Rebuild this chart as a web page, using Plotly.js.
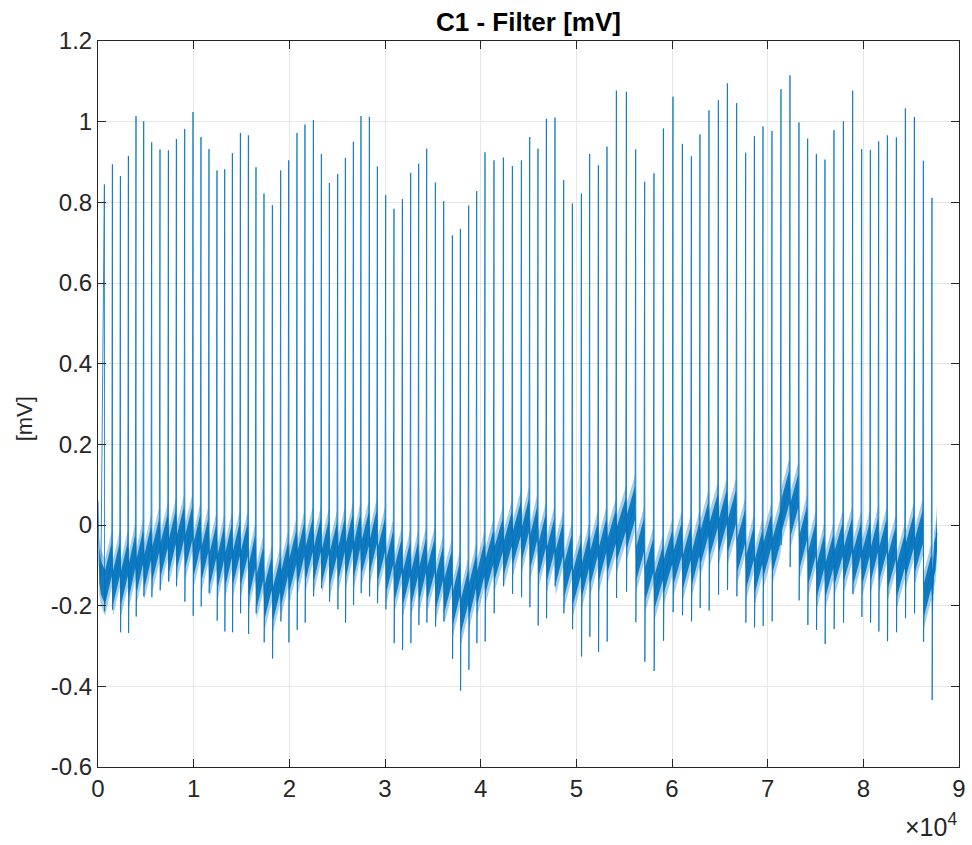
<!DOCTYPE html>
<html>
<head>
<meta charset="utf-8">
<script src="https://cdn.plot.ly/plotly-3.0.1.min.js"></script>
<style>html,body{margin:0;padding:0;background:#fff;}#chart{width:972px;height:845px;}</style>
</head>
<body>
<div id="chart"></div>
<script>
// R-peak sample positions
const spikeX = [669,1505,2341,3178,3972,4777,5613,6481,7359,8195,
  9063,9930,10766,11602,12439,13244,14048,14885,15721,16515,
  17351,18229,19097,19933,20801,21637,22515,23351,24187,25055,
  25860,26696,27490,28368,29204,30072,30940,31818,32685,33522,
  34358,35267,36135,37044,37880,38748,39584,40452,41392,42375,
  43316,44256,45124,45992,46870,47769,48678,49587,50528,51395,
  52305,53204,54186,55231,56204,57144,58116,59099,60102,61084,
  62025,62924,63865,64847,65788,66760,67701,68611,69510,70450,
  71391,72332,73273,74182,75091,75990,76931,77914,78886,79827,
  80736,81604,82513,83453,84394,85335,86276,87175];
// R-peak heights [mV]
const spikeTop = [0.844,0.894,0.865,0.915,1.014,1.001,0.949,0.931,0.929,0.957,
  0.982,1.024,0.962,0.932,0.879,0.882,0.922,0.972,0.966,0.887,
  0.822,0.793,0.879,0.904,0.972,0.993,1.004,0.920,0.848,0.870,
  0.910,0.950,1.014,1.012,0.889,0.818,0.784,0.808,0.873,0.896,
  0.933,0.849,0.803,0.718,0.734,0.792,0.828,0.924,0.904,0.911,
  0.890,0.904,0.962,0.933,1.007,1.010,0.855,0.797,0.822,0.920,
  0.892,0.938,1.077,1.074,0.931,0.851,0.872,0.983,1.062,0.945,
  0.914,0.968,1.028,1.053,1.095,1.046,0.923,0.964,0.988,0.977,
  1.081,1.115,0.998,0.958,0.920,0.906,0.979,1.001,1.077,0.932,
  0.930,0.951,0.966,0.961,1.033,1.012,0.903,0.811];
// S-wave troughs [mV]
const spikeBot = [-0.214,-0.210,-0.266,-0.268,-0.227,-0.177,-0.179,-0.162,-0.140,-0.152,
  -0.190,-0.225,-0.202,-0.169,-0.237,-0.264,-0.266,-0.219,-0.270,-0.219,
  -0.291,-0.331,-0.239,-0.291,-0.260,-0.242,-0.177,-0.157,-0.190,-0.209,
  -0.242,-0.198,-0.169,-0.177,-0.194,-0.209,-0.293,-0.310,-0.293,-0.248,
  -0.242,-0.252,-0.239,-0.332,-0.411,-0.359,-0.293,-0.289,-0.219,-0.152,
  -0.171,-0.179,-0.204,-0.249,-0.231,-0.152,-0.219,-0.258,-0.326,-0.277,
  -0.315,-0.289,-0.181,-0.165,-0.241,-0.339,-0.362,-0.287,-0.216,-0.224,
  -0.239,-0.206,-0.212,-0.173,-0.161,-0.177,-0.242,-0.254,-0.250,-0.239,
  -0.050,-0.104,-0.187,-0.248,-0.260,-0.295,-0.258,-0.242,-0.171,-0.228,
  -0.242,-0.264,-0.288,-0.266,-0.231,-0.219,-0.290,-0.434];
// baseline level of the noisy band after each beat [mV]
const bandMid = [-0.12,-0.12,-0.12,-0.10,-0.09,-0.08,-0.06,-0.05,-0.04,-0.03,
  -0.03,-0.05,-0.06,-0.075,-0.08,-0.075,-0.07,-0.07,-0.10,-0.13,
  -0.155,-0.16,-0.12,-0.09,-0.07,-0.06,-0.06,-0.065,-0.07,-0.06,
  -0.05,-0.05,-0.045,-0.04,-0.06,-0.09,-0.11,-0.12,-0.12,-0.11,
  -0.11,-0.13,-0.14,-0.17,-0.19,-0.15,-0.12,-0.09,-0.06,-0.045,
  -0.02,-0.01,-0.03,-0.05,-0.06,-0.07,-0.10,-0.12,-0.10,-0.07,
  -0.06,-0.04,-0.01,0.02,-0.06,-0.11,-0.13,-0.09,-0.07,-0.08,
  -0.07,-0.02,0.00,0.01,0.01,-0.04,-0.08,-0.09,-0.05,-0.04,
  0.06,0.05,-0.03,-0.07,-0.10,-0.10,-0.07,-0.06,-0.07,-0.07,
  -0.06,-0.06,-0.08,-0.10,-0.05,-0.04,-0.15,-0.12];
// start and end of the record
const headX = [0, 120, 300];
const headY = [0.06, -0.10, -0.13];
const tailX = [87400, 87550, 87700];
const tailY = [-0.14, -0.07, -0.02];

const RAMP = 0.035, GAP = 70, HW = 0.042, FUZZ = 0.07;
const n = spikeX.length;
let cx = headX.slice(1), cy = headY.slice(1);
let lx = headX.slice(), ly = headY.slice();
for (let i = 0; i < n; i++) {
  lx.push(spikeX[i], spikeX[i] + 20);
  ly.push(spikeTop[i], spikeBot[i]);
  const end = i < n - 1 ? spikeX[i + 1] - GAP : tailX[0];
  cx.push(spikeX[i] + GAP, end);
  cy.push(bandMid[i] - RAMP, bandMid[i] + RAMP);
  lx.push(spikeX[i] + GAP, end);
  ly.push(bandMid[i] - RAMP, bandMid[i] + RAMP);
}
cx = cx.concat(tailX.slice(1)); cy = cy.concat(tailY.slice(1));
lx = lx.concat(tailX.slice(1)); ly = ly.concat(tailY.slice(1));

const band = (w, col) => [
  {x: cx, y: cy.map(v => v - w), mode: 'lines', line: {width: 0, color: col}, hoverinfo: 'skip', showlegend: false},
  {x: cx, y: cy.map(v => v + w), mode: 'lines', line: {width: 0, color: col}, fill: 'tonexty', fillcolor: col, hoverinfo: 'skip', showlegend: false}
];
const data = [
  ...band(FUZZ, 'rgba(0,114,189,0.35)'),
  ...band(HW, 'rgba(0,114,189,0.9)'),
  {x: lx, y: ly, mode: 'lines', line: {width: 1, color: 'rgba(0,114,189,0.8)'}, showlegend: false}
];

const xt = [0,1,2,3,4,5,6,7,8,9];
const yt = [-0.6,-0.4,-0.2,0,0.2,0.4,0.6,0.8,1,1.2];
const FONT = 'Liberation Sans, Arial, Helvetica, sans-serif';
const axisCommon = {
  showline: true, mirror: 'ticks', linecolor: '#262626', linewidth: 1,
  ticks: 'inside', ticklen: 8, tickcolor: '#262626', tickwidth: 1,
  showgrid: true, gridcolor: '#e6e6e6', gridwidth: 1, zeroline: false,
  tickfont: {family: FONT, size: 24, color: '#262626'}
};
const layout = {
  width: 972, height: 845,
  margin: {l: 98, r: 13, t: 41, b: 78},
  paper_bgcolor: '#fff', plot_bgcolor: '#fff',
  title: {text: '<b>C1 - Filter [mV]</b>', font: {family: FONT, size: 26, color: '#000'},
          x: 0.5, xref: 'paper', xanchor: 'center', y: 0.974, yref: 'container', yanchor: 'middle'},
  xaxis: Object.assign({}, axisCommon, {range: [0, 90000], tickvals: xt.map(v => v * 10000), ticktext: xt.map(String)}),
  yaxis: Object.assign({}, axisCommon, {range: [-0.6, 1.2], tickvals: yt, ticktext: yt.map(v => String(v))}),
  annotations: [
    {text: '[mV]', textangle: -90, xref: 'paper', yref: 'paper', x: -0.085, y: 0.48,
     xanchor: 'center', yanchor: 'middle', showarrow: false, font: {family: FONT, size: 22, color: '#262626'}},
    {text: '×10<sup>4</sup>', xref: 'paper', yref: 'paper', x: 1.0, y: -0.08,
     xanchor: 'right', yanchor: 'middle', showarrow: false, font: {family: FONT, size: 25, color: '#262626'}}
  ]
};
Plotly.newPlot('chart', data, layout, {displayModeBar: false, staticPlot: true});
</script>
</body>
</html>
